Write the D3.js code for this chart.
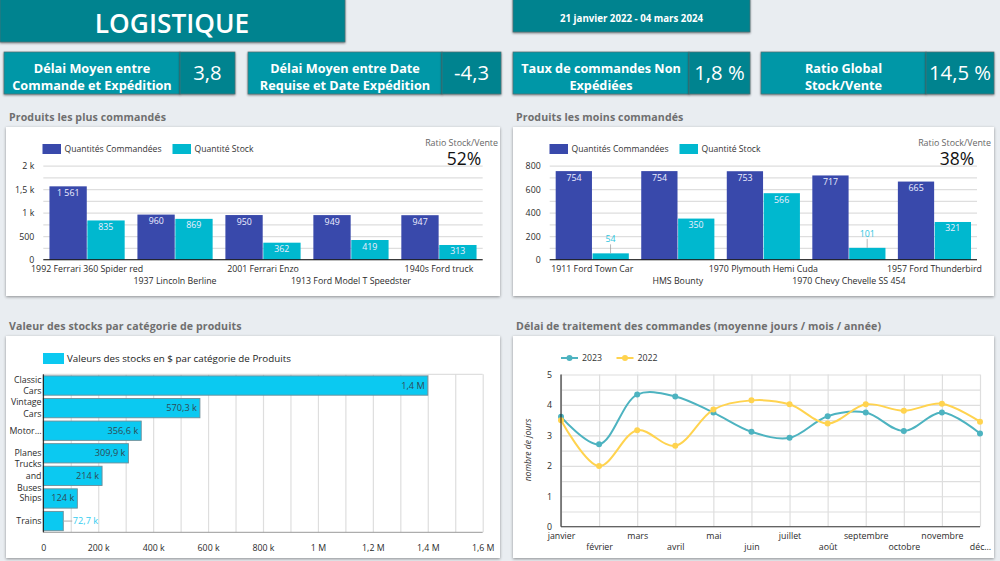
<!DOCTYPE html>
<html><head><meta charset="utf-8">
<script src="https://cdn.jsdelivr.net/npm/d3@7/dist/d3.min.js"></script>
<style>
html,body{margin:0;padding:0;background:#e9edf1;overflow:hidden}
svg{display:block;font-family:"Open Sans",sans-serif}
.grid line{stroke:#dedede;stroke-width:1.2}
.grid path{display:none}
.ax path,.ax line{display:none}
.ax text{fill:#2b2b2b;font-size:8.8px;font-family:"Open Sans",sans-serif}
.card{fill:#fff;filter:drop-shadow(0 1px 1.5px rgba(0,0,0,.4))}
.kpi{filter:drop-shadow(0 1px 1px rgba(0,0,0,.45))}
</style></head><body>
<svg id="c" width="1000" height="561"></svg>
<script>
const topNames=["1992 Ferrari 360 Spider red","1937 Lincoln Berline","2001 Ferrari Enzo","1913 Ford Model T Speedster","1940s Ford truck"];
const topOrdered=[1561,960,950,949,947];
const topStock=[835,869,362,419,313];
const lowNames=["1911 Ford Town Car","HMS Bounty","1970 Plymouth Hemi Cuda","1970 Chevy Chevelle SS 454","1957 Ford Thunderbird"];
const lowOrdered=[754,754,753,717,665];
const lowStock=[54,350,566,101,321];
const catNames=["Classic|Cars","Vintage|Cars","Motor…","Planes","Trucks|and|Buses","Ships","Trains"];
const catValues=[1400000,570300,356600,309900,214000,124000,72700];
const catLabels=["1,4 M","570,3 k","356,6 k","309,9 k","214 k","124 k","72,7 k"];
const months=["janvier","février","mars","avril","mai","juin","juillet","août","septembre","octobre","novembre","déc…"];
const delay2023=[3.61,2.71,4.34,4.28,3.75,3.12,2.92,3.63,3.75,3.14,3.75,3.06];
const delay2022=[3.5,1.99,3.17,2.66,3.85,4.15,4.02,3.39,4.02,3.81,4.04,3.45];
const kpis=[
 {l:["Délai Moyen entre","Commande et Expédition"],v:"3,8",x:[4,180,235]},
 {l:["Délai Moyen entre Date","Requise et Date Expédition"],v:"-4,3",x:[248,442,501]},
 {l:["Taux de commandes Non","Expédiées"],v:"1,8 %",x:[513,689,750]},
 {l:["Ratio Global","Stock/Vente"],v:"14,5 %",x:[761,926,994]}];
const TEAL_D="#00838f",TEAL="#0097a7",BLUE="#3949ab",CY="#00b8cf",CY2="#0bc9f1",TITLE="#6f6f6f";
const fr=d=>d>=1e6?(d/1e6+" M").replace(".",","):d>=1000?(d/1000+" k").replace(".",","):""+d;
const svg=d3.select("#c");

// header
function box(x,y,w,h,fill){return svg.append("rect").attr("class","kpi").attr("x",x).attr("y",y).attr("width",w).attr("height",h).attr("fill",fill).attr("stroke","#4f6f73").attr("stroke-width",.7);}
box(0,-2,345,44,TEAL_D);
svg.append("text").attr("x",172).attr("y",33).attr("text-anchor","middle").attr("fill","#fff").attr("font-size",26.3).attr("font-weight",600).text("LOGISTIQUE");
box(513,-2,237,34,TEAL_D);
svg.append("text").attr("x",631.5).attr("y",22).attr("text-anchor","middle").attr("fill","#fff").attr("font-size",9.7).attr("font-weight",700).text("21 janvier 2022 - 04 mars 2024");
kpis.forEach(k=>{
 box(k.x[0],52,k.x[1]-k.x[0],42,TEAL);
 box(k.x[1],52,k.x[2]-k.x[1],42,TEAL_D);
 k.l.forEach((t,i)=>svg.append("text").attr("x",(k.x[0]+k.x[1])/2).attr("y",72.5+i*17).attr("text-anchor","middle").attr("fill","#fff").attr("font-size",12.7).attr("font-weight",700).text(t));
 svg.append("text").attr("x",(k.x[1]+k.x[2])/2).attr("y",79.5).attr("text-anchor","middle").attr("fill","#fff").attr("font-size",20.3).text(k.v);
});
// cards
function card(x,y,w,h,title){
 svg.append("rect").attr("class","card").attr("x",x).attr("y",y).attr("width",w).attr("height",h);
 svg.append("text").attr("x",x+3).attr("y",y-6).attr("fill",TITLE).attr("font-size",10.6).attr("font-weight",700).attr("letter-spacing",.1).text(title);
}
card(6,127,494,169,"Produits les plus commandés");
card(513,127,481,169,"Produits les moins commandés");
card(6,336,494,222,"Valeur des stocks par catégorie de produits");
card(513,336,481,222,"Délai de traitement des commandes (moyenne jours / mois / année)");

function barPanel(o){
 const g=svg.append("g");
 const x=d3.scaleBand().domain(o.names).range([o.x0,o.x1]).paddingInner(.145).paddingOuter(.07);
 const y=d3.scaleLinear().domain([0,o.max]).range([o.yb,o.yt]);
 const sub=d3.scaleBand().domain([0,1]).range([0,x.bandwidth()]);
 g.append("g").attr("class","grid").attr("transform",`translate(${o.x0},0)`).call(d3.axisLeft(y).tickValues(d3.range(0,o.max+1,o.minor)).tickSize(-(o.x1-o.x0)).tickFormat(""));
 [o.a,o.b].forEach((vals,j)=>{
  g.selectAll(null).data(vals).enter().append("rect")
   .attr("x",(d,i)=>x(o.names[i])+sub(j)+(j?.3:0)).attr("width",sub.bandwidth()-.3)
   .attr("y",d=>y(d)).attr("height",d=>o.yb-y(d)).attr("fill",j?CY:BLUE);
  vals.forEach((d,i)=>{
   const cx=x(o.names[i])+sub(j)+sub.bandwidth()/2, outside=d<150;
   if(outside){
    g.append("line").attr("x1",cx).attr("x2",cx).attr("y1",y(d)).attr("y2",y(d)-9).attr("stroke","#999").attr("stroke-width",.7);
    g.append("text").attr("x",cx).attr("y",y(d)-11).attr("text-anchor","middle").attr("fill","#2cc5e0").attr("font-size",8.8).text(d);
   }else{
    g.append("text").attr("x",cx).attr("y",y(d)+9.5).attr("text-anchor","middle").attr("fill","#eef").attr("font-size",8.8).text(d3.format(",")(d).replace(/,/g," "));
   }
  });
 });
 g.append("g").attr("class","ax").attr("transform",`translate(${o.x0},0)`).call(d3.axisLeft(y).tickValues(o.major).tickFormat(fr).tickPadding(3));
 const xa=g.append("g").attr("class","ax").attr("transform",`translate(0,${o.yb})`).call(d3.axisBottom(x).tickPadding(3));
 xa.selectAll("text").attr("y",(d,i)=>i%2?18:6.5).attr("dy","0.71em");
 g.append("line").attr("x1",o.x0).attr("x2",o.x1).attr("y1",o.yb).attr("y2",o.yb).attr("stroke","#111").attr("stroke-width",1);
 // legend
 [[o.lx[0],BLUE,"Quantités Commandées"],[o.lx[1],CY,"Quantité Stock"]].forEach(l=>{
  g.append("rect").attr("x",l[0]).attr("y",144).attr("width",18.5).attr("height",10).attr("fill",l[1]);
  g.append("text").attr("x",l[0]+22).attr("y",152).attr("fill","#333").attr("font-size",8.6).text(l[2]);
 });
 g.append("text").attr("x",o.rx).attr("y",146).attr("text-anchor","end").attr("fill","#666").attr("font-size",8.9).text("Ratio Stock/Vente");
 g.append("text").attr("x",o.rx-34).attr("y",165).attr("text-anchor","middle").attr("fill","#111").attr("font-size",17.5).text(o.ratio);
}
barPanel({names:topNames,a:topOrdered,b:topStock,x0:43.3,x1:482.7,yt:165.7,yb:259.7,max:2000,minor:250,major:[0,500,1000,1500,2000],lx:[42.5,172.5],rx:498,ratio:"52%"});
barPanel({names:lowNames,a:lowOrdered,b:lowStock,x0:549.7,x1:977,yt:165.7,yb:259.7,max:800,minor:100,major:[0,200,400,600,800],lx:[549.5,679.5],rx:991,ratio:"38%"});

// horizontal bars
(function(){
 const g=svg.append("g"),X0=43.3,X1=482.7,YT=374.3,YB=532.3;
 const x=d3.scaleLinear().domain([0,1600000]).range([X0,X1]);
 const y=d3.scaleBand().domain(catNames).range([YT,YB]).paddingInner(.145).paddingOuter(.07);
 g.append("g").attr("class","grid").attr("transform",`translate(0,${YB})`).call(d3.axisBottom(x).tickValues(d3.range(0,1600001,100000)).tickSize(-(YB-YT)).tickFormat(""));
 g.append("line").attr("x1",X0).attr("x2",X1).attr("y1",YT).attr("y2",YT).attr("stroke","#d8d8d8");
 g.append("line").attr("x1",X0).attr("x2",X1).attr("y1",YB).attr("y2",YB).attr("stroke","#999");
 g.selectAll(null).data(catValues).enter().append("rect").attr("x",X0).attr("y",(d,i)=>y(catNames[i])).attr("width",d=>x(d)-X0).attr("height",y.bandwidth()).attr("fill",CY2).attr("stroke","#6f8d97").attr("stroke-width",.9);
 catValues.forEach((d,i)=>{
  const cy=y(catNames[i])+y.bandwidth()/2+3;
  if(d<100000){
   g.append("line").attr("x1",x(d)).attr("x2",x(d)+9).attr("y1",cy-3).attr("y2",cy-3).attr("stroke","#aaa");
   g.append("text").attr("x",x(d)+9.5).attr("y",cy).attr("fill","#35cdf0").attr("font-size",9.2).text(catLabels[i]);
  }else{
   g.append("text").attr("x",x(d)-3).attr("y",cy).attr("text-anchor","end").attr("fill","#2f4a55").attr("font-size",9.2).text(catLabels[i]);
  }
 });
 g.append("line").attr("x1",X0).attr("x2",X0).attr("y1",YT).attr("y2",YB).attr("stroke","#111").attr("stroke-width",1);
 g.append("g").attr("class","ax").attr("transform",`translate(0,${YB})`).call(d3.axisBottom(x).tickValues(d3.range(0,1600001,200000)).tickFormat(fr).tickPadding(6));
 const lab=g.append("g").attr("class","ax");
 catNames.forEach(n=>{
  const p=n.split("|"),c=y(n)+y.bandwidth()/2,lh=p.length>2?12:11.3;
  p.forEach((t,i)=>lab.append("text").attr("x",41.5).attr("y",c+3+(i-(p.length-1)/2)*lh).attr("text-anchor","end").text(t));
 });
 g.append("rect").attr("x",43).attr("y",353).attr("width",21).attr("height",11).attr("fill",CY2);
 g.append("text").attr("x",67).attr("y",362).attr("fill","#222").attr("font-size",9.8).text("Valeurs des stocks en $ par catégorie de Produits");
})();

// lines
(function(){
 const g=svg.append("g"),X0=561,X1=980,YT=374.5,YB=526.7;
 const x=d3.scalePoint().domain(months).range([X0,X1]);
 const y=d3.scaleLinear().domain([0,5]).range([YB,YT]);
 g.append("g").attr("class","grid").attr("transform",`translate(${X0},0)`).call(d3.axisLeft(y).tickValues(d3.range(0,5.01,.5)).tickSize(-(X1-X0)).tickFormat(""));
 g.append("g").attr("class","grid").attr("transform",`translate(0,${YB})`).call(d3.axisBottom(x).tickSize(-(YB-YT)).tickFormat(""));
 const line=d3.line().x((d,i)=>x(months[i])).y(d=>y(d)).curve(d3.curveCatmullRom.alpha(.5));
 [[delay2023,"#4db3c0"],[delay2022,"#ffd34f"]].forEach(s=>{
  g.append("path").attr("d",line(s[0])).attr("fill","none").attr("stroke",s[1]).attr("stroke-width",2);
  g.selectAll(null).data(s[0]).enter().append("circle").attr("cx",(d,i)=>x(months[i])).attr("cy",d=>y(d)).attr("r",3).attr("fill",s[1]);
 });
 g.append("line").attr("x1",X0).attr("x2",X0).attr("y1",YT).attr("y2",YB).attr("stroke","#111");
 g.append("line").attr("x1",X0).attr("x2",X1).attr("y1",YB).attr("y2",YB).attr("stroke","#444");
 g.append("g").attr("class","ax").attr("transform",`translate(${X0},0)`).call(d3.axisLeft(y).ticks(5).tickFormat(d3.format("d")).tickPadding(3));
 const xa=g.append("g").attr("class","ax").attr("transform",`translate(0,${YB})`).call(d3.axisBottom(x));
 xa.selectAll("text").attr("y",(d,i)=>i%2?17.5:6).attr("dy","0.71em");
 g.append("text").attr("transform","translate(531,450) rotate(-90)").attr("text-anchor","middle").attr("font-style","italic").attr("font-size",8.6).attr("fill","#333").text("nombre de jours");
 [[561,"#4db3c0","2023"],[616.5,"#ffd34f","2022"]].forEach(l=>{
  g.append("line").attr("x1",l[0]).attr("x2",l[0]+17).attr("y1",358).attr("y2",358).attr("stroke",l[1]).attr("stroke-width",2);
  g.append("circle").attr("cx",l[0]+8.5).attr("cy",358).attr("r",3).attr("fill",l[1]);
  g.append("text").attr("x",l[0]+21).attr("y",361).attr("font-size",8.8).attr("fill","#333").text(l[2]);
 });
})();
</script></body></html>
